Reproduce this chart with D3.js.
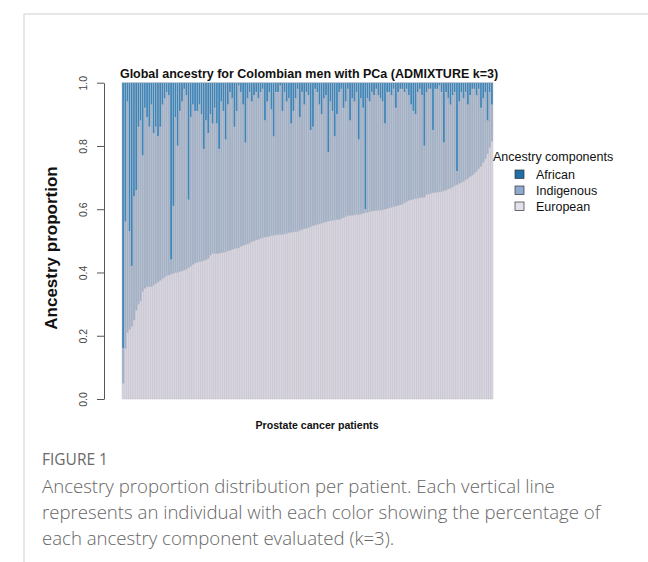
<!DOCTYPE html>
<html>
<head>
<meta charset="utf-8">
<script src="https://cdn.jsdelivr.net/npm/d3@7"></script>
<style>
body { margin: 0; background: #fff; }
</style>
</head>
<body>
<svg id="chart" width="648" height="562"></svg>
<script>
// African component per patient (same order as bars)
var african = [
  0.84, 0.44, 0.06, 0.47, 0.58, 0.36, 0.34, 0.14, 0.12, 0.23,
  0.08, 0.11, 0.14, 0.07, 0.16, 0.14, 0.17, 0.14, 0.07, 0.05,
  0.03, 0.04, 0.56, 0.39, 0.11, 0.20, 0.09, 0.06, 0.02, 0.04,
  0.37, 0.11, 0.07, 0.09,
  0.09, 0.07, 0.10, 0.21, 0.12, 0.16, 0.10, 0.13, 0.08, 0.13,
  0.21, 0.06, 0.09, 0.18, 0.07, 0.03, 0.05, 0.14, 0.09, 0.01,
  0.03, 0.07, 0.19, 0.05, 0.03, 0.06, 0.04, 0.03, 0.05, 0.03,
  0.02, 0.12, 0.06, 0.03, 0.085,
  0.17, 0.03, 0.03, 0.01, 0.09, 0.03, 0.06, 0.05, 0.13, 0.09,
  0.05, 0.02, 0.11, 0.03, 0.07, 0.03, 0.04, 0.15, 0.14, 0.02,
  0.03, 0.07, 0.10, 0.05, 0.04, 0.22, 0.06, 0.09, 0.17, 0.10,
  0.03, 0.02, 0.08, 0.06, 0.02,
  0.12, 0.05, 0.06, 0.03, 0.18, 0.05, 0.08, 0.40, 0.05, 0.06,
  0.03, 0.04, 0.02, 0.04, 0.05, 0.06, 0.13, 0.03, 0.03, 0.04,
  0.02, 0.08, 0.03, 0.02, 0.02, 0.03, 0.02, 0.04, 0.07, 0.09,
  0.10, 0.03, 0.02, 0.04, 0.20,
  0.03, 0.02, 0.02, 0.15, 0.02, 0.02, 0.01, 0.03, 0.19, 0.03,
  0.05, 0.07, 0.04, 0.03, 0.28, 0.06, 0.03, 0.05, 0.03, 0.07,
  0.04, 0.02, 0.02, 0.04, 0.02, 0.08, 0.05, 0.03, 0.12, 0.03,
  0.07
];

// European component per patient (sorted ascending in the figure)
var european = [
  0.05, 0.16, 0.21, 0.22, 0.23, 0.25, 0.28, 0.30, 0.31, 0.34,
  0.35, 0.355, 0.355, 0.356, 0.36, 0.365, 0.37, 0.375, 0.38, 0.385,
  0.39, 0.392, 0.395, 0.397, 0.40, 0.40, 0.403, 0.405, 0.408, 0.41,
  0.415, 0.42, 0.425, 0.43,
  0.432, 0.434, 0.435, 0.437, 0.44, 0.445, 0.455, 0.46, 0.46, 0.46,
  0.461, 0.462, 0.463, 0.465, 0.468, 0.47, 0.473, 0.475, 0.477, 0.478,
  0.483, 0.485, 0.488, 0.49, 0.493, 0.497, 0.50, 0.503, 0.505, 0.508,
  0.51, 0.512, 0.513, 0.515, 0.517,
  0.518, 0.519, 0.52, 0.52, 0.521, 0.522, 0.524, 0.526, 0.527, 0.528,
  0.529, 0.53, 0.533, 0.536, 0.538, 0.54, 0.542, 0.545, 0.548, 0.55,
  0.552, 0.554, 0.556, 0.558, 0.56, 0.562, 0.564, 0.565, 0.566, 0.567,
  0.568, 0.57, 0.573, 0.576, 0.58,
  0.58, 0.581, 0.582, 0.583, 0.584, 0.585, 0.587, 0.589, 0.59, 0.592,
  0.594, 0.595, 0.596, 0.597, 0.597, 0.598, 0.60, 0.602, 0.604, 0.606,
  0.608, 0.61, 0.612, 0.614, 0.616, 0.62, 0.624, 0.628, 0.63, 0.632,
  0.634, 0.635, 0.636, 0.637, 0.638,
  0.646, 0.648, 0.65, 0.652, 0.653, 0.654, 0.655, 0.656, 0.658, 0.661,
  0.664, 0.667, 0.67, 0.674, 0.677, 0.681, 0.685, 0.688, 0.693, 0.698,
  0.703, 0.708, 0.714, 0.72, 0.728, 0.736, 0.748, 0.76, 0.775, 0.795,
  0.815
];

var components = ["African", "Indigenous", "European"];
var yTicks = [0, 0.2, 0.4, 0.6, 0.8, 1.0];

var fills = { African: "#3d86ba", Indigenous: "#a1b1c8", European: "#d9d5e0" };
var swatch = { African: "#1f6ea8", Indigenous: "#8fa9d0", European: "#e4e0ec" };

// proportions add up to one, indigenous is the rest
var rows = african.map(function (a, i) {
  return { id: i, African: a, European: european[i], Indigenous: 1 - a - european[i] };
});

var svg = d3.select("#chart");

// page frame of the article figure
svg.append("line").attr("x1", 24).attr("x2", 648).attr("y1", 14).attr("y2", 14)
  .attr("stroke", "#cfcfcf").attr("stroke-width", 1);
svg.append("line").attr("x1", 24).attr("x2", 24).attr("y1", 14).attr("y2", 562)
  .attr("stroke", "#cfcfcf").attr("stroke-width", 1);

var x = d3.scaleBand().domain(rows.map(function (d) { return d.id; }))
  .range([122, 493]).padding(0);
var y = d3.scaleLinear().domain([0, 1]).range([399, 82.7]);

var stack = d3.stack().keys(["European", "Indigenous", "African"]);
var series = stack(rows);

svg.append("g").selectAll("g")
  .data(series)
  .enter().append("g")
  .attr("fill", function (s) { return fills[s.key]; })
  .selectAll("rect")
  .data(function (s) { return s; })
  .enter().append("rect")
  .attr("x", function (d) { return x(d.data.id); })
  .attr("width", x.bandwidth())
  .attr("y", function (d) { return y(d[1]); })
  .attr("height", function (d) { return y(d[0]) - y(d[1]); })
  .attr("stroke", "#bfbfc8")
  .attr("stroke-width", 0.45);

// y axis, R style with rotated labels
var yAxis = svg.append("g")
  .attr("transform", "translate(104,0)")
  .call(d3.axisLeft(y).tickValues(yTicks).tickFormat(d3.format(".1f")).tickSize(7).tickSizeOuter(0));
yAxis.select(".domain").attr("stroke", "#555");
yAxis.selectAll(".tick line").attr("stroke", "#555");
yAxis.selectAll(".tick text")
  .attr("x", 0).attr("y", -17).attr("dy", 0)
  .attr("transform", "rotate(-90)")
  .attr("text-anchor", "middle")
  .attr("fill", "#444")
  .style("font-family", "Liberation Sans, Arial, sans-serif")
  .style("font-size", "10.5px");

svg.append("text")
  .attr("x", 309).attr("y", 78)
  .attr("text-anchor", "middle")
  .style("font-family", "Liberation Sans, Arial, sans-serif")
  .style("font-size", "12.5px").style("font-weight", "bold")
  .attr("fill", "#111")
  .text("Global ancestry for Colombian men with PCa (ADMIXTURE k=3)");

svg.append("text")
  .attr("transform", "translate(57,248) rotate(-90)")
  .attr("text-anchor", "middle")
  .style("font-family", "Liberation Sans, Arial, sans-serif")
  .style("font-size", "17px").style("font-weight", "bold")
  .attr("fill", "#111")
  .text("Ancestry proportion");

svg.append("text")
  .attr("x", 317).attr("y", 429)
  .attr("text-anchor", "middle")
  .style("font-family", "Liberation Sans, Arial, sans-serif")
  .style("font-size", "10.6px").style("font-weight", "bold")
  .attr("fill", "#111")
  .text("Prostate cancer patients");

// legend
var legend = svg.append("g");
legend.append("text")
  .attr("x", 493).attr("y", 161)
  .style("font-family", "Liberation Sans, Arial, sans-serif")
  .style("font-size", "12.5px")
  .attr("fill", "#111")
  .text("Ancestry components");
var item = legend.selectAll(".item")
  .data(components)
  .enter().append("g")
  .attr("class", "item")
  .attr("transform", function (d, i) { return "translate(515," + (170 + i * 16) + ")"; });
item.append("rect")
  .attr("width", 9).attr("height", 8.5)
  .attr("fill", function (d) { return swatch[d]; })
  .attr("stroke", "#333").attr("stroke-width", 0.7);
item.append("text")
  .attr("x", 21).attr("y", 9)
  .style("font-family", "Liberation Sans, Arial, sans-serif")
  .style("font-size", "12.5px")
  .attr("fill", "#111")
  .text(function (d) { return d; });

// figure caption
svg.append("text")
  .attr("x", 42).attr("y", 465)
  .style("font-family", "Open Sans, sans-serif")
  .style("font-size", "15.5px")
  .attr("fill", "#6a6a6a")
  .text("FIGURE 1");

var caption = [
  "Ancestry proportion distribution per patient. Each vertical line",
  "represents an individual with each color showing the percentage of",
  "each ancestry component evaluated (k=3)."
];
svg.append("g").selectAll("text")
  .data(caption)
  .enter().append("text")
  .attr("x", 42)
  .attr("y", function (d, i) { return 493 + i * 26; })
  .style("font-family", "Open Sans, sans-serif")
  .style("font-size", "18.6px")
  .style("font-weight", "300")
  .attr("fill", "#666")
  .text(function (d) { return d; });
</script>
</body>
</html>
